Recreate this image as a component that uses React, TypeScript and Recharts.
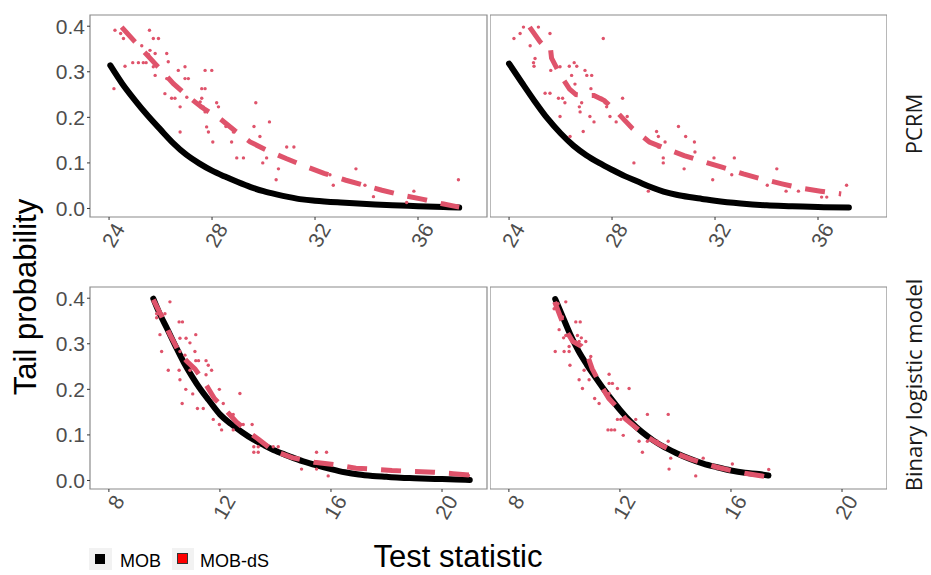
import React from "react";
import {
  ComposedChart, Line, Scatter, XAxis, YAxis, ReferenceArea,
} from "recharts";

const RED = "#DF536B";
const GREY = "#4d4d4d";
const SANS = "'Liberation Sans', Arial, sans-serif";

type Pt = [number, number];

// y axis, shared by all panels
const yTicks = [0, 0.1, 0.2, 0.3, 0.4];
const yDomain: [number, number] = [-0.0187, 0.4246];

// x axes
const pcrmTicks = [24, 28, 32, 36];
const pcrmDomain: [number, number] = [23.26, 38.68];
const binTicks = [8, 12, 16, 20];
const binDomain: [number, number] = [7.32, 21.62];

// PCRM, left panel
const pcrmLeftMob: Pt[] = [
  [24.05, 0.314], [24.5, 0.275], [25.0, 0.238], [25.5, 0.204], [26.0, 0.173],
  [26.5, 0.143], [27.0, 0.118], [27.5, 0.099], [28.0, 0.083], [28.5, 0.07],
  [29.0, 0.058], [29.5, 0.047], [30.0, 0.038], [30.5, 0.031], [31.0, 0.025],
  [31.5, 0.02], [32.0, 0.017], [33.0, 0.013], [34.0, 0.01], [35.0, 0.007],
  [36.0, 0.005], [37.0, 0.003], [37.6, 0.002],
];
const pcrmLeftDs: Pt[] = [
  [24.49, 0.398], [25.0, 0.366], [25.85, 0.314], [26.5, 0.274], [27.02, 0.248],
  [27.6, 0.222], [28.31, 0.197], [28.9, 0.17], [29.48, 0.146], [30.2, 0.126],
  [30.9, 0.109], [31.7, 0.091], [32.35, 0.077], [33.2, 0.062], [33.9, 0.051],
  [34.6, 0.04], [35.4, 0.029], [36.2, 0.02], [36.9, 0.011], [37.6, 0.003],
];
const pcrmLeftPts: Pt[] = [
  [24.23, 0.391], [24.45, 0.384], [24.56, 0.373], [25.57, 0.391], [25.72, 0.373],
  [25.92, 0.373], [25.27, 0.357], [25.59, 0.347], [25.53, 0.338], [25.79, 0.34],
  [26.24, 0.34], [26.3, 0.322], [24.62, 0.312], [24.92, 0.32], [25.14, 0.32],
  [25.33, 0.32], [25.44, 0.32], [25.72, 0.311], [25.79, 0.292], [26.24, 0.285],
  [26.69, 0.303], [26.95, 0.311], [26.95, 0.285], [27.08, 0.285], [26.17, 0.252],
  [26.43, 0.242], [26.56, 0.242], [26.76, 0.223], [27.02, 0.244], [27.73, 0.303],
  [27.99, 0.303], [27.6, 0.263], [27.73, 0.263], [27.54, 0.234], [27.6, 0.242],
  [27.66, 0.223], [28.18, 0.232], [28.25, 0.223], [27.73, 0.212], [26.76, 0.168],
  [27.79, 0.179], [27.86, 0.168], [28.03, 0.146], [28.54, 0.18], [28.76, 0.146],
  [28.83, 0.168], [29.7, 0.232], [29.63, 0.18], [29.86, 0.158], [30.23, 0.19],
  [28.96, 0.111], [29.22, 0.111], [29.97, 0.1], [30.12, 0.111], [30.58, 0.087],
  [30.49, 0.063], [30.9, 0.135], [31.18, 0.135], [24.19, 0.263], [32.58, 0.074],
  [32.71, 0.051], [33.59, 0.087], [33.94, 0.051], [34.27, 0.026], [35.56, 0.013],
  [35.84, 0.038], [37.57, 0.063],
];

// PCRM, right panel
const pcrmRightMob: Pt[] = [
  [24.0, 0.318], [24.5, 0.276], [25.0, 0.235], [25.5, 0.197], [26.0, 0.165],
  [26.5, 0.138], [27.0, 0.117], [27.5, 0.1], [28.0, 0.085], [28.5, 0.071],
  [29.0, 0.059], [29.5, 0.047], [30.0, 0.037], [30.5, 0.03], [31.0, 0.025],
  [31.5, 0.021], [32.0, 0.017], [33.0, 0.011], [34.0, 0.007], [35.0, 0.005],
  [36.0, 0.003], [37.2, 0.002],
];
const pcrmRightDs: Pt[] = [
  [24.8, 0.398], [25.2, 0.366], [25.35, 0.357], [25.6, 0.356], [25.65, 0.33],
  [26.0, 0.292], [26.35, 0.262], [26.6, 0.25], [27.0, 0.248], [27.3, 0.248],
  [27.7, 0.237], [28.25, 0.208], [28.8, 0.175], [29.45, 0.146], [30.1, 0.131],
  [30.8, 0.116], [31.6, 0.102], [32.3, 0.09], [33.1, 0.076], [33.8, 0.065],
  [34.6, 0.054], [35.3, 0.045], [36.1, 0.038], [36.9, 0.032],
];
const pcrmRightPts: Pt[] = [
  [24.19, 0.373], [24.43, 0.384], [24.56, 0.398], [25.14, 0.398], [25.59, 0.384],
  [24.82, 0.357], [25.01, 0.329], [24.95, 0.32], [24.97, 0.312], [27.66, 0.373],
  [25.62, 0.303], [25.98, 0.311], [26.34, 0.312], [26.53, 0.32], [26.63, 0.312],
  [26.43, 0.292], [26.95, 0.303], [27.02, 0.292], [27.21, 0.292], [26.56, 0.273],
  [27.18, 0.263], [25.4, 0.253], [25.59, 0.253], [25.92, 0.242], [26.08, 0.242],
  [26.17, 0.232], [25.98, 0.202], [26.82, 0.232], [26.73, 0.223], [26.76, 0.212],
  [27.14, 0.202], [27.3, 0.19], [26.88, 0.169], [27.6, 0.242], [27.73, 0.232],
  [27.79, 0.223], [28.41, 0.242], [27.92, 0.202], [28.16, 0.19], [28.59, 0.202],
  [28.7, 0.18], [26.37, 0.158], [28.85, 0.1], [29.73, 0.169], [29.8, 0.158],
  [30.06, 0.146], [29.8, 0.135], [30.58, 0.18], [30.86, 0.158], [31.2, 0.146],
  [31.22, 0.124], [29.99, 0.111], [29.99, 0.1], [30.8, 0.087], [29.41, 0.038],
  [31.91, 0.063], [31.96, 0.111], [32.65, 0.074], [32.75, 0.111], [34.4, 0.087],
  [34.03, 0.051], [34.76, 0.038], [35.24, 0.038], [36.14, 0.025], [36.34, 0.025],
  [37.11, 0.051],
];

// Binary logistic model, left panel
const binLeftMob: Pt[] = [
  [9.6, 0.399], [9.8, 0.37], [10.1, 0.333], [10.4, 0.295], [10.7, 0.259],
  [11.0, 0.228], [11.3, 0.2], [11.6, 0.176], [12.0, 0.145], [12.4, 0.124],
  [12.8, 0.106], [13.2, 0.09], [13.6, 0.077], [14.0, 0.065], [14.5, 0.053],
  [15.0, 0.042], [15.5, 0.033], [16.0, 0.025], [16.5, 0.018], [17.0, 0.013],
  [17.5, 0.01], [18.0, 0.008], [18.5, 0.006], [19.0, 0.005], [19.5, 0.004],
  [20.0, 0.003], [20.5, 0.002], [21.0, 0.001],
];
const binLeftDs: Pt[] = [
  [9.6, 0.397], [9.9, 0.36], [10.2, 0.32], [10.5, 0.285], [10.8, 0.262],
  [11.1, 0.245], [11.45, 0.215], [11.8, 0.18], [12.2, 0.155], [12.6, 0.128],
  [13.0, 0.108], [13.4, 0.09], [13.9, 0.066], [14.6, 0.05], [15.4, 0.04],
  [16.1, 0.035], [16.9, 0.027], [17.5, 0.025], [18.2, 0.022], [18.9, 0.02],
  [19.7, 0.018], [20.4, 0.015], [21.0, 0.012],
];
const binLeftPts: Pt[] = [
  [10.2, 0.392], [9.72, 0.366], [9.72, 0.357], [10.02, 0.366], [10.53, 0.348],
  [10.65, 0.348], [9.84, 0.32], [10.56, 0.312], [10.78, 0.312], [10.92, 0.302],
  [11.13, 0.32], [9.9, 0.283], [10.56, 0.283], [10.74, 0.275], [11.1, 0.283],
  [10.82, 0.263], [11.13, 0.263], [11.23, 0.263], [11.5, 0.263], [10.14, 0.242],
  [10.53, 0.242], [10.92, 0.242], [11.58, 0.253], [11.7, 0.242], [11.5, 0.232],
  [10.56, 0.221], [10.77, 0.2], [11.02, 0.19], [11.98, 0.2], [10.64, 0.169],
  [11.19, 0.158], [11.4, 0.158], [12.72, 0.191], [12.12, 0.169], [11.76, 0.134],
  [11.98, 0.123], [12.06, 0.111], [12.48, 0.145], [12.72, 0.123], [12.84, 0.123],
  [13.16, 0.123], [12.48, 0.111], [13.26, 0.097], [13.22, 0.074], [13.38, 0.074],
  [13.22, 0.062], [13.38, 0.062], [13.92, 0.074], [14.1, 0.074], [14.94, 0.025],
  [15.48, 0.062], [15.84, 0.062], [15.48, 0.025], [15.9, 0.01], [20.95, 0.011],
];

// Binary logistic model, right panel
const binRightMob: Pt[] = [
  [9.67, 0.398], [9.9, 0.365], [10.2, 0.322], [10.5, 0.285], [10.8, 0.255],
  [11.1, 0.228], [11.4, 0.202], [11.7, 0.178], [12.0, 0.155], [12.4, 0.128],
  [12.8, 0.106], [13.2, 0.088], [13.6, 0.073], [14.0, 0.061], [14.5, 0.048],
  [15.0, 0.037], [15.5, 0.029], [16.0, 0.022], [16.5, 0.017], [17.0, 0.014],
  [17.35, 0.011],
];
const binRightDs: Pt[] = [
  [9.65, 0.392], [9.85, 0.36], [10.05, 0.33], [10.3, 0.305], [10.6, 0.295],
  [10.8, 0.28], [11.0, 0.245], [11.3, 0.21], [11.6, 0.18], [11.9, 0.16],
  [12.2, 0.135], [12.6, 0.115], [13.0, 0.095], [13.4, 0.08], [13.8, 0.068],
  [14.2, 0.055], [14.6, 0.046], [15.0, 0.038], [15.5, 0.029], [16.0, 0.022],
  [16.5, 0.016], [17.0, 0.011], [17.4, 0.007],
];
const binRightPts: Pt[] = [
  [10.05, 0.392], [9.77, 0.388], [9.63, 0.377], [9.93, 0.359], [9.81, 0.331],
  [10.41, 0.348], [10.57, 0.348], [9.97, 0.313], [10.05, 0.318], [10.47, 0.318],
  [10.61, 0.313], [10.77, 0.305], [10.53, 0.305], [10.17, 0.294], [9.67, 0.283],
  [9.99, 0.283], [10.17, 0.283], [10.95, 0.272], [10.89, 0.261], [10.2, 0.253],
  [10.71, 0.242], [10.53, 0.221], [10.89, 0.221], [10.65, 0.202], [11.61, 0.233],
  [11.61, 0.213], [11.73, 0.213], [11.91, 0.202], [12.33, 0.202], [11.09, 0.18],
  [11.25, 0.169], [11.61, 0.191], [11.91, 0.134], [12.03, 0.134], [11.57, 0.111],
  [11.69, 0.111], [11.81, 0.111], [12.12, 0.099], [12.57, 0.134], [12.99, 0.145],
  [13.74, 0.145], [12.69, 0.086], [12.99, 0.086], [12.81, 0.062], [13.35, 0.086],
  [13.74, 0.086], [13.83, 0.049], [13.77, 0.025], [14.73, 0.01], [15.0, 0.049],
  [16.05, 0.036], [17.36, 0.024],
];

const toXY = (pts: Pt[]) => pts.map(([x, y]) => ({ x, y }));

const XTick = (props: any) => {
  const { x, y, payload } = props;
  const ax = x + 10;
  const ay = y + 3;
  return (
    <text
      x={ax}
      y={ay}
      transform={`rotate(-60 ${ax} ${ay})`}
      textAnchor="end"
      dominantBaseline="central"
      fill={GREY}
      fontSize={21}
      fontFamily={SANS}
    >
      {payload.value}
    </text>
  );
};

const Dot = (props: any) => (
  <circle cx={props.cx} cy={props.cy} r={1.7} fill={RED} />
);

type PanelProps = {
  left: number;
  top: number;
  showY: boolean;
  xDomain: [number, number];
  xTicks: number[];
  mob: Pt[];
  ds: Pt[];
  pts: Pt[];
};

function Panel({ left, top, showY, xDomain, xTicks, mob, ds, pts }: PanelProps) {
  return (
    <div style={{ position: "absolute", left, top }}>
      <ComposedChart
        width={showY ? 490 : 397}
        height={275}
        margin={{ top: 15, right: showY ? 3 : 0, left: 0, bottom: 0 }}
      >
        <XAxis
          type="number"
          dataKey="x"
          domain={xDomain}
          ticks={xTicks}
          allowDataOverflow
          interval={0}
          height={58}
          axisLine={false}
          tickSize={3}
          tickLine={{ stroke: "#333" }}
          tick={<XTick />}
        />
        <YAxis
          type="number"
          dataKey="y"
          domain={yDomain}
          ticks={yTicks}
          allowDataOverflow
          hide={!showY}
          width={90}
          axisLine={false}
          tickSize={3}
          tickMargin={2}
          tickLine={{ stroke: "#333" }}
          tickFormatter={(v: number) => v.toFixed(1)}
          tick={{ fill: GREY, fontSize: 21, fontFamily: SANS }}
        />
        <ReferenceArea
          x1={xDomain[0]}
          x2={xDomain[1]}
          y1={yDomain[0]}
          y2={yDomain[1]}
          fill="none"
          stroke="#8a8a8a"
          strokeWidth={1.2}
        />
        <Line
          data={toXY(mob)}
          dataKey="y"
          type="monotone"
          stroke="#000"
          strokeWidth={6}
          strokeLinejoin="round"
          strokeLinecap="round"
          dot={false}
          isAnimationActive={false}
        />
        <Line
          data={toXY(ds)}
          dataKey="y"
          type="linear"
          stroke={RED}
          strokeWidth={5}
          strokeDasharray="20 14"
          dot={false}
          isAnimationActive={false}
        />
        <Scatter
          data={toXY(pts)}
          dataKey="y"
          shape={<Dot />}
          isAnimationActive={false}
        />
      </ComposedChart>
    </div>
  );
}

export default function App() {
  return (
    <div style={{ position: "absolute", left: 0, top: 0, width: 931, height: 575, background: "#fff" }}>
      <Panel left={0} top={0} showY xDomain={pcrmDomain} xTicks={pcrmTicks}
        mob={pcrmLeftMob} ds={pcrmLeftDs} pts={pcrmLeftPts} />
      <Panel left={490} top={0} showY={false} xDomain={pcrmDomain} xTicks={pcrmTicks}
        mob={pcrmRightMob} ds={pcrmRightDs} pts={pcrmRightPts} />
      <Panel left={0} top={272} showY xDomain={binDomain} xTicks={binTicks}
        mob={binLeftMob} ds={binLeftDs} pts={binLeftPts} />
      <Panel left={490} top={272} showY={false} xDomain={binDomain} xTicks={binTicks}
        mob={binRightMob} ds={binRightDs} pts={binRightPts} />

      <svg width={931} height={575} style={{ position: "absolute", left: 0, top: 0, pointerEvents: "none" }}>
        <text x={36} y={297} transform="rotate(-90 36 297)" textAnchor="middle"
          fontSize={31} fontFamily={SANS} fill="#000">Tail probability</text>
        <text x={458} y={567} textAnchor="middle" fontSize={31} fontFamily={SANS} fill="#000">
          Test statistic
        </text>
        <text x={922} y={124} transform="rotate(-90 922 124)" textAnchor="middle"
          fontSize={22} fontFamily="'Open Sans', sans-serif" fill="#1a1a1a">PCRM</text>
        <text x={922} y={385} transform="rotate(-90 922 385)" textAnchor="middle"
          fontSize={22} fontFamily="'Open Sans', sans-serif" fill="#1a1a1a">Binary logistic model</text>

        <rect x={89} y={548} width={23} height={22} fill="#f2f2f2" />
        <rect x={95} y={554} width={10} height={10} fill="#000" />
        <text x={120} y={567} fontSize={18} fontFamily={SANS} fill="#000">MOB</text>
        <rect x={172} y={548} width={22} height={22} fill="#f2f2f2" />
        <rect x={177.5} y={553.5} width={10} height={10} fill="#ff0000" stroke="#333" strokeWidth={1} />
        <text x={200} y={567} fontSize={18} fontFamily={SANS} fill="#000">MOB-dS</text>
      </svg>
    </div>
  );
}
